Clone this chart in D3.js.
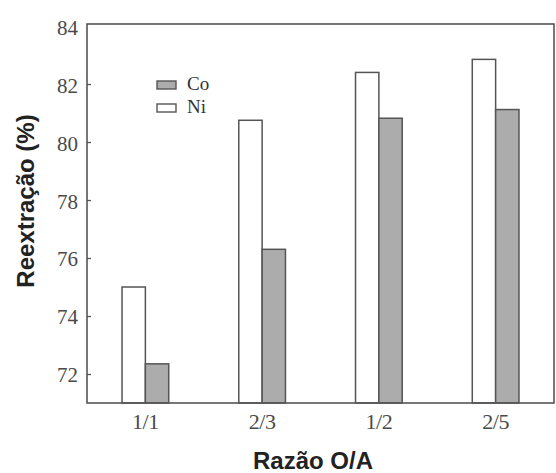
<!DOCTYPE html>
<html>
<head>
<meta charset="utf-8">
<script src="https://cdn.jsdelivr.net/npm/d3@7"></script>
<style>
  html, body { margin: 0; padding: 0; background: #fff; }
  svg { display: block; }
</style>
</head>
<body>
<svg id="chart" width="556" height="473"></svg>
<script>
// Stripping yield by O/A ratio
const categories = ["1/1", "2/3", "1/2", "2/5"];
const series = ["Ni", "Co"];
const niValues = [75.0, 80.75, 82.4, 82.85];
const coValues = [72.35, 76.3, 80.82, 81.12];
const yTicks = [72, 74, 76, 78, 80, 82, 84];
const legendItems = ["Co", "Ni"];

const fills = { Ni: "#ffffff", Co: "#acacac" };
const stroke = "#555";
const serif = "'Liberation Serif', 'Times New Roman', serif";
const sans = "'Liberation Sans', Arial, sans-serif";

const svg = d3.select("#chart");
const plotLeft = 87, plotRight = 554, plotTop = 24, plotBottom = 403;

const x0 = d3.scaleBand().domain(categories).range([plotLeft, plotRight])
  .paddingInner(0.6).paddingOuter(0.3);
const x1 = d3.scaleBand().domain(series).range([0, x0.bandwidth()]);
const y = d3.scaleLinear().domain([71, 84.07]).range([plotBottom, plotTop]);

const rows = categories.map((c, i) => ({ cat: c, Ni: niValues[i], Co: coValues[i] }));

// bars
const g = svg.append("g");
rows.forEach(r => {
  series.forEach(s => {
    g.append("rect")
      .attr("x", x0(r.cat) + x1(s))
      .attr("y", y(r[s]))
      .attr("width", x1.bandwidth())
      .attr("height", plotBottom - y(r[s]))
      .attr("fill", fills[s])
      .attr("stroke", stroke)
      .attr("stroke-width", 1.5);
  });
});

// frame
svg.append("rect")
  .attr("x", plotLeft).attr("y", plotTop)
  .attr("width", plotRight - plotLeft).attr("height", plotBottom - plotTop)
  .attr("fill", "none").attr("stroke", stroke).attr("stroke-width", 1.6);

// y axis (ticks point inward)
const yAxis = d3.axisLeft(y).tickValues(yTicks).tickSize(-4).tickPadding(9)
  .tickFormat(d3.format("d"));
const ya = svg.append("g").attr("transform", `translate(${plotLeft},0)`).call(yAxis);
ya.select(".domain").remove();
ya.selectAll(".tick line").attr("stroke", stroke).attr("stroke-width", 1.3);
ya.selectAll(".tick").filter(d => d === 84).select("line").remove();
ya.selectAll("text").attr("font-family", serif)
  .attr("font-size", 21).attr("fill", "#4a4a4a").attr("dy", "0.38em");

// x axis labels
const xAxis = d3.axisBottom(x0).tickSize(0).tickPadding(10);
const xa = svg.append("g").attr("transform", `translate(0,${plotBottom})`).call(xAxis);
xa.select(".domain").remove();
xa.selectAll("text").attr("font-family", serif)
  .attr("font-size", 22).attr("fill", "#4a4a4a").attr("letter-spacing", "-0.5");

// axis titles
svg.append("text")
  .attr("x", 313).attr("y", 469)
  .attr("text-anchor", "middle")
  .attr("font-family", sans)
  .attr("font-weight", "bold").attr("font-size", 24).attr("fill", "#222")
  .text("Razão O/A");

svg.append("text")
  .attr("transform", "translate(34,201) rotate(-90)")
  .attr("text-anchor", "middle")
  .attr("font-family", sans)
  .attr("font-weight", "bold").attr("font-size", 24).attr("fill", "#222")
  .text("Reextração (%)");

// legend
const lg = svg.append("g").attr("transform", "translate(157,81)");
legendItems.forEach((s, i) => {
  const row = lg.append("g").attr("transform", `translate(0,${i * 23})`);
  row.append("rect").attr("x", 0).attr("y", 0).attr("width", 19).attr("height", 8)
    .attr("fill", fills[s]).attr("stroke", stroke).attr("stroke-width", 1.4);
  row.append("text").attr("x", 30).attr("y", 9)
    .attr("font-family", serif)
    .attr("font-size", 19).attr("fill", "#333")
    .text(s);
});
</script>
</body>
</html>
